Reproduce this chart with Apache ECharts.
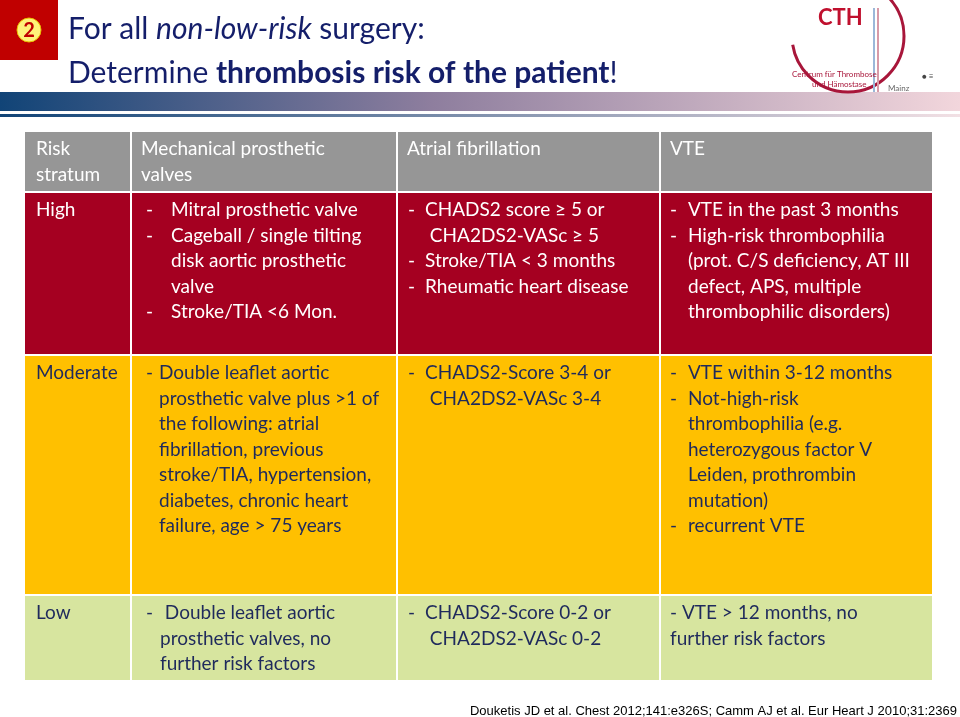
<!DOCTYPE html>
<html><head><meta charset="utf-8">
<script src="https://cdn.jsdelivr.net/npm/echarts@6/dist/echarts.min.js"></script>
<style>html,body{margin:0;padding:0;background:#fff}#c{width:960px;height:717px}</style>
</head><body><div id="c"></div>
<script>
const titleLine1 = ['For all ', 'non-low-risk', ' surgery:'];
const titleLine2 = ['Determine ', 'thrombosis risk of the patient', '!'];
const headers = [['Risk','stratum'],['Mechanical prosthetic','valves'],['Atrial fibrillation'],['VTE']];
const strata = ['High','Moderate','Low'];
const mechValves = [
  [['Mitral prosthetic valve'],['Cageball / single tilting','disk aortic prosthetic','valve'],['Stroke/TIA <6 Mon.']],
  [['Double leaflet aortic','prosthetic valve plus >1 of','the following: atrial','fibrillation, previous','stroke/TIA, hypertension,','diabetes, chronic heart','failure, age > 75 years']],
  [[' Double leaflet aortic','prosthetic valves, no','further risk factors']]
];
const atrialFib = [
  [['CHADS2 score \u2265 5 or',' CHA2DS2-VASc \u2265 5'],['Stroke/TIA < 3 months'],['Rheumatic heart disease']],
  [['CHADS2-Score 3-4 or',' CHA2DS2-VASc 3-4']],
  [['CHADS2-Score 0-2 or',' CHA2DS2-VASc 0-2']]
];
const vte = [
  [['VTE in the past 3 months'],['High-risk thrombophilia','(prot. C/S deficiency, AT III','defect, APS, multiple','thrombophilic disorders)']],
  [['VTE within 3-12 months'],['Not-high-risk','thrombophilia (e.g.','heterozygous factor V','Leiden, prothrombin','mutation)'],['recurrent VTE']],
  [['- VTE > 12 months, no','further risk factors']]
];
const citation = 'Douketis JD et al. Chest 2012;141:e326S; Camm AJ et al. Eur Heart J 2010;31:2369';

const colX = [25,131,397,660,933];
const rowY = [132,192,355,595,681];
const rowFill = ['#969696','#A50021','#FFC000','#D7E59F'];
const rowText = ['#ffffff','#ffffff','#1F2A5C','#1F2A5C'];
const FONT = 'Lato, "Open Sans", sans-serif';
const FS = 19, LH = 25.5;
const g = [];
// badge
g.push({type:'rect',shape:{x:0,y:0,width:58,height:60},style:{fill:'#C00000'}});
g.push({type:'circle',shape:{cx:29,cy:30,r:12},style:{fill:'#FFF27A',stroke:'#E8C000',lineWidth:1}});
g.push({type:'text',x:29,y:31,style:{text:'2',fill:'#C00000',font:'bold 20px '+FONT,align:'center',verticalAlign:'middle'}});
// title
function richTitle(parts,y,mid){
  g.push({type:'text',x:68,y:y,style:{text:'{a|'+parts[0]+'}{b|'+parts[1]+'}{a|'+parts[2]+'}',verticalAlign:'middle',
    rich:{a:{font:'30px '+FONT,fill:'#141E6A'},b:{font:(mid==='i'?'italic 30px ':'bold 30px ')+FONT,fill:'#141E6A'}}}});
}
richTitle(titleLine1,29,'i');
richTitle(titleLine2,73,'b');
// gradient bar
g.push({type:'rect',shape:{x:0,y:92,width:960,height:19},style:{fill:new echarts.graphic.LinearGradient(0,0,1,0,[{offset:0,color:'#114477'},{offset:0.45,color:'#8E7E9E'},{offset:1,color:'#F2D6DC'}])}});
g.push({type:'rect',shape:{x:0,y:114,width:960,height:3},style:{fill:new echarts.graphic.LinearGradient(0,0,1,0,[{offset:0,color:'#114477'},{offset:1,color:'#F2E0E4'}])}});
// logo
g.push({type:'arc',shape:{cx:848,cy:36,r:56,startAngle:-Math.PI*0.25,endAngle:Math.PI*0.95},style:{stroke:'#A8163A',lineWidth:3,fill:null}});
g.push({type:'line',shape:{x1:874,y1:8,x2:874,y2:92},style:{stroke:'#9BB7D8',lineWidth:2}});
g.push({type:'line',shape:{x1:878,y1:8,x2:878,y2:92},style:{stroke:'#D79AA8',lineWidth:2}});
g.push({type:'text',x:818,y:18,style:{text:'CTH',fill:'#C0102E',font:'bold 22px '+FONT,verticalAlign:'middle'}});
g.push({type:'text',x:792,y:70,style:{text:'Centrum für Thrombose',fill:'#A8163A',font:'8px '+FONT}});
g.push({type:'text',x:812,y:80,style:{text:'und Hämostase',fill:'#A8163A',font:'8px '+FONT}});
g.push({type:'text',x:888,y:84,style:{text:'Mainz',fill:'#666',font:'8px '+FONT}});
g.push({type:'text',x:922,y:72,style:{text:'● ≡',fill:'#444',font:'8px '+FONT}});
// cells
for(let r=0;r<4;r++) for(let c=0;c<4;c++){
  g.push({type:'rect',shape:{x:colX[c]+(c?1:0),y:rowY[r]+(r?1:0),width:colX[c+1]-colX[c]-(c?1:0)-1,height:rowY[r+1]-rowY[r]-(r?1:0)-1},style:{fill:rowFill[r]}});
}
function txt(x,y,s,col){g.push({type:'text',x:x,y:y,style:{text:s,fill:col,font:FS+'px '+FONT,verticalAlign:'middle'}});}
headers.forEach((h,c)=>h.forEach((s,i)=>txt(colX[c]+(c?10:11),149+i*LH,s,rowText[0])));
const firstY=[210,373,613];
const cellOff = [
  [[146,171],[408,425],[670,688]],
  [[146,159],[408,425],[670,688]],
  [[146,160],[408,425],[670,670]]
];
const cols=[mechValves,atrialFib,vte];
strata.forEach((s,r)=>{
  const col=rowText[r+1];
  txt(36,firstY[r],s,col);
  cols.forEach((data,c)=>{
    let y=firstY[r];
    const [dx,tx]=cellOff[r][c];
    data[r].forEach(b=>{
      if(!(r===2&&c===2)) txt(dx,y,'-',col);
      b.forEach(l=>{txt(tx,y,l,col);y+=LH;});
    });
  });
});
g.push({type:'text',x:957,y:711,style:{text:citation,fill:'#000',font:'13px "Liberation Sans", Arial, sans-serif',align:'right',verticalAlign:'middle'}});
const chart=echarts.init(document.getElementById('c'));
chart.setOption({animation:false,graphic:{elements:g}});
</script></body></html>
